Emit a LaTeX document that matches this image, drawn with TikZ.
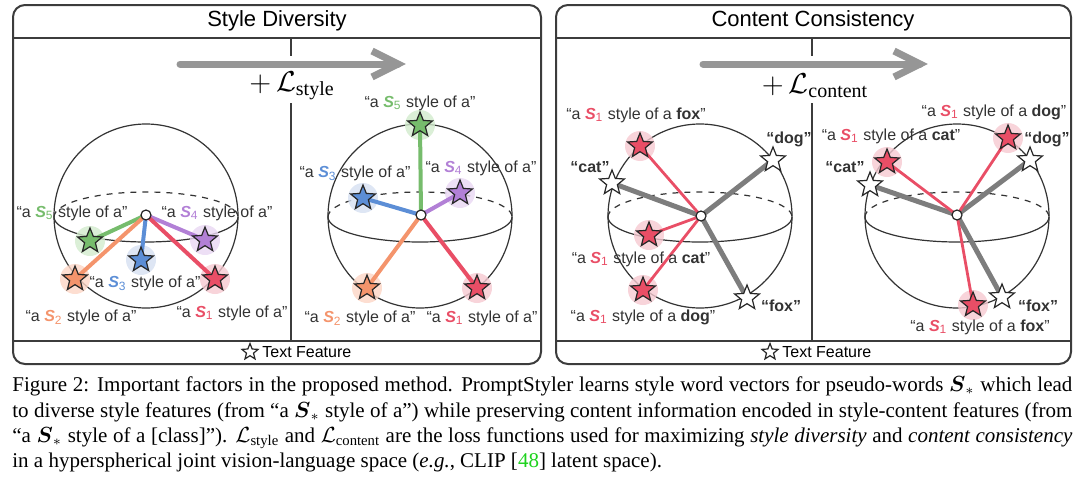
\documentclass[tikz,border=0pt]{standalone}
\usepackage{amsmath}
\usepackage{fontspec}
\setmainfont{Liberation Serif}
\setsansfont{Liberation Sans}
\usetikzlibrary{shapes.geometric}
\definecolor{framegray}{RGB}{60,60,60}
\definecolor{arrowgray}{RGB}{150,150,150}
\definecolor{featgray}{RGB}{125,125,125}
\definecolor{s1}{RGB}{233,78,102}
\definecolor{s2}{RGB}{244,148,108}
\definecolor{s3}{RGB}{92,142,214}
\definecolor{s4}{RGB}{178,128,214}
\definecolor{s5}{RGB}{118,188,108}
\definecolor{g1}{RGB}{246,201,209}
\definecolor{g2}{RGB}{252,214,198}
\definecolor{g3}{RGB}{214,224,241}
\definecolor{g4}{RGB}{233,215,243}
\definecolor{g5}{RGB}{210,235,205}
\definecolor{citegreen}{RGB}{30,210,30}
\pgfdeclarelayer{back}
\pgfdeclarelayer{glow}
\pgfdeclarelayer{edges}
\pgfsetlayers{back,glow,edges,main}
\tikzset{panel/.style={draw=framegray, line width=1pt, rounded corners=6pt},
         bar/.style={draw=framegray, line width=0.8pt},
         ball/.style={draw=black!80, line width=0.6pt},
         fstar/.style={star, star points=5, star point ratio=2.3, draw=black!85, line width=0.6pt, fill=#1, minimum size=13pt, inner sep=0pt},
         fstar/.default=white,
         dot/.style={circle, draw=black!85, fill=white, line width=0.6pt, minimum size=5pt, inner sep=0pt},
         lab/.style={font=\sffamily\fontsize{8}{9}\selectfont, text=black!80, inner sep=0pt},
         title/.style={font=\sffamily\fontsize{11}{13}\selectfont, inner sep=0pt},
         loss/.style={font=\Large, inner sep=0pt},
         sline/.style={line width=2pt, draw=#1},
         tline/.style={line width=2.5pt, draw=featgray},
         cline/.style={line width=1.4pt, draw=s1},
         bigarrow/.style={draw=arrowgray, line width=3.5pt, line cap=round},
         capline/.style={font=\fontsize{10.5}{12}\selectfont, inner sep=0pt, anchor=base west}}
\newcommand{\sword}[2]{{\color{#1}\textbf{\textit{S}}\textsubscript{#2}}}
\newcommand{\glowat}[2]{\fill[#1, opacity=.8] (#2) circle (15);}

\begin{document}
\begin{tikzpicture}[x=0.5pt, y=-0.5pt]
        \useasboundingbox (0,0) rectangle (1080,487);
        % frames
        \draw[panel](13,5) rectangle (541,364);
        \draw[panel](556,5) rectangle (1071,364);
        \draw[bar](13,38)--(541,38);
        \draw[bar](13,341)--(541,341);
        \draw[bar](556,38)--(1071,38);
        \draw[bar](556,341)--(1071,341);
        \node[title](t1) at (277,21) {Style Diversity};
        \node[title](t2) at (813,21) {Content Consistency};
        \draw[bar,line width=0.6pt](291,38)--(291,56);
        \draw[bar,line width=0.6pt](291,103)--(291,341);
        \draw[bar,line width=0.6pt](812,38)--(812,56);
        \draw[bar,line width=0.6pt](812,103)--(812,341);
        % loss arrows
        \coordinate (a1s) at (180,64);
        \coordinate (a1e) at (398,64);
        \draw[bigarrow](a1s)--(a1e);
        \draw[bigarrow,line cap=butt](a1e)++(-26,-13)--(a1e)--++(-26,13);
        \node[loss](l1) at (292,86) {$+\,\mathcal{L}_{\mathrm{style}}$};
        \coordinate (a2s) at (703,64);
        \coordinate (a2e) at (920,64);
        \draw[bigarrow](a2s)--(a2e);
        \draw[bigarrow,line cap=butt](a2e)++(-26,-13)--(a2e)--++(-26,13);
        \node[loss](l2) at (815,86) {$+\,\mathcal{L}_{\mathrm{content}}$};

        % style diversity, before
        \begin{pgfonlayer}{back}
        \draw[ball](146,216) circle (92);
        \draw[ball,dashed](146,217) ++(180:92 and 25) arc (180:360:92 and 25);
        \draw[ball](146,217) ++(0:92 and 25) arc (0:180:92 and 25);
        \end{pgfonlayer}
        \node[dot](lc) at (146,215) {};
        \node[fstar=s5](ls5) at (90,241) {};
        \node[fstar=s2](ls2) at (75,279) {};
        \node[fstar=s3](ls3) at (141,260) {};
        \node[fstar=s4](ls4) at (205,240) {};
        \node[fstar=s1](ls1) at (215,279) {};
        \begin{pgfonlayer}{glow}
        \glowat{g5}{ls5} \glowat{g2}{ls2} \glowat{g3}{ls3} \glowat{g4}{ls4} \glowat{g1}{ls1}
        \end{pgfonlayer}
        \begin{pgfonlayer}{edges}
        \draw[sline=s5](lc.center)--(ls5.center);
        \draw[sline=s2](lc.center)--(ls2.center);
        \draw[sline=s3](lc.center)--(ls3.center);
        \draw[sline=s4](lc.center)--(ls4.center);
        \draw[sline=s1](lc.center)--(ls1.center);
        \end{pgfonlayer}
        \node[lab](lt5) at (72,213) {“a \sword{s5}{5} style of a”};
        \node[lab](lt4) at (217,213) {“a \sword{s4}{4} style of a”};
        \node[lab](lt3) at (145,283) {“a \sword{s3}{3} style of a”};
        \node[lab](lt2) at (81,317) {“a \sword{s2}{2} style of a”};
        \node[lab](lt1) at (232,313) {“a \sword{s1}{1} style of a”};

        % style diversity, after
        \begin{pgfonlayer}{back}
        \draw[ball](420,216) circle (92);
        \draw[ball,dashed](420,217) ++(180:92 and 25) arc (180:360:92 and 25);
        \draw[ball](420,217) ++(0:92 and 25) arc (0:180:92 and 25);
        \end{pgfonlayer}
        \node[dot](rc) at (421,215) {};
        \node[fstar=s5](rs5) at (420,125) {};
        \node[fstar=s3](rs3) at (363,198) {};
        \node[fstar=s4](rs4) at (460,193) {};
        \node[fstar=s2](rs2) at (367,288) {};
        \node[fstar=s1](rs1) at (477,288) {};
        \begin{pgfonlayer}{glow}
        \glowat{g5}{rs5} \glowat{g2}{rs2} \glowat{g3}{rs3} \glowat{g4}{rs4} \glowat{g1}{rs1}
        \end{pgfonlayer}
        \begin{pgfonlayer}{edges}
        \draw[sline=s5](rc.center)--(rs5.center);
        \draw[sline=s2](rc.center)--(rs2.center);
        \draw[sline=s3](rc.center)--(rs3.center);
        \draw[sline=s4](rc.center)--(rs4.center);
        \draw[sline=s1](rc.center)--(rs1.center);
        \end{pgfonlayer}
        \node[lab](rt5) at (420,103) {“a \sword{s5}{5} style of a”};
        \node[lab](rt3) at (355,173) {“a \sword{s3}{3} style of a”};
        \node[lab](rt4) at (481,168) {“a \sword{s4}{4} style of a”};
        \node[lab](rt2) at (360,318) {“a \sword{s2}{2} style of a”};
        \node[lab](rt1) at (482,318) {“a \sword{s1}{1} style of a”};

        % content consistency, before
        \begin{pgfonlayer}{back}
        \draw[ball](700,216) circle (92);
        \draw[ball,dashed](700,217) ++(180:92 and 25) arc (180:360:92 and 25);
        \draw[ball](700,217) ++(0:92 and 25) arc (0:180:92 and 25);
        \end{pgfonlayer}
        \node[dot](cc) at (701,216) {};
        \node[fstar=s1](cfox) at (640,146) {};
        \node[fstar](tcat) at (612,183) {};
        \node[fstar](tdog) at (773,160) {};
        \node[fstar=s1](ccat) at (649,235) {};
        \node[fstar=s1](cdog) at (643,290) {};
        \node[fstar](tfox) at (747,298) {};
        \begin{pgfonlayer}{glow}
        \glowat{g1}{cfox} \glowat{g1}{ccat} \glowat{g1}{cdog}
        \end{pgfonlayer}
        \begin{pgfonlayer}{edges}
        \draw[tline](cc.center)--(tcat.center);
        \draw[tline](cc.center)--(tdog.center);
        \draw[tline](cc.center)--(tfox.center);
        \draw[cline](cc.center)--(cfox.center);
        \draw[cline](cc.center)--(ccat.center);
        \draw[cline](cc.center)--(cdog.center);
        \end{pgfonlayer}
        \node[lab](cfoxt) at (636,115) {“a \sword{s1}{1} style of a \textbf{fox}”};
        \node[lab](tdogt) at (789,139) {\textbf{“dog”}};
        \node[lab](tcatt) at (590,167) {\textbf{“cat”}};
        \node[lab](ccatt) at (641,259) {“a \sword{s1}{1} style of a \textbf{cat}”};
        \node[lab](cdogt) at (643,317) {“a \sword{s1}{1} style of a \textbf{dog}”};
        \node[lab](tfoxt) at (781,306) {\textbf{“fox”}};

        % content consistency, after
        \begin{pgfonlayer}{back}
        \draw[ball](957,216) circle (92);
        \draw[ball,dashed](957,217) ++(180:92 and 25) arc (180:360:92 and 25);
        \draw[ball](957,217) ++(0:92 and 25) arc (0:180:92 and 25);
        \end{pgfonlayer}
        \node[dot](dc) at (957,215) {};
        \node[fstar=s1](dcat) at (887,162) {};
        \node[fstar](ucat) at (870,185) {};
        \node[fstar=s1](ddog) at (1008,138) {};
        \node[fstar](udog) at (1030,160) {};
        \node[fstar=s1](dfox) at (973,305) {};
        \node[fstar](ufox) at (1002,297) {};
        \begin{pgfonlayer}{glow}
        \glowat{g1}{dcat} \glowat{g1}{ddog} \glowat{g1}{dfox}
        \end{pgfonlayer}
        \begin{pgfonlayer}{edges}
        \draw[tline](dc.center)--(ucat.center);
        \draw[tline](dc.center)--(udog.center);
        \draw[tline](dc.center)--(ufox.center);
        \draw[cline](dc.center)--(dcat.center);
        \draw[cline](dc.center)--(ddog.center);
        \draw[cline](dc.center)--(dfox.center);
        \end{pgfonlayer}
        \node[lab](ddogt) at (994,112) {“a \sword{s1}{1} style of a \textbf{dog}”};
        \node[lab](dcatt) at (891,136) {“a \sword{s1}{1} style of a \textbf{cat}”};
        \node[lab](udogt) at (1047,139) {\textbf{“dog”}};
        \node[lab](ucatt) at (845,167) {\textbf{“cat”}};
        \node[lab](ufoxt) at (1038,306) {\textbf{“fox”}};
        \node[lab](dfoxt) at (980,327) {“a \sword{s1}{1} style of a \textbf{fox}”};

        % legend bars
        \node[fstar,minimum size=8.5pt](k1) at (250,352) {};
        \node[lab,text=black,anchor=west](k1t) at (262,352) {Text Feature};
        \node[fstar,minimum size=8.5pt](k2) at (770,352) {};
        \node[lab,text=black,anchor=west](k2t) at (782,352) {Text Feature};

        % caption
        \node[capline](cap1) at (12,391) {\makebox[530pt][s]{Figure 2: Important factors in the proposed method. PromptStyler learns style word vectors for pseudo-words $\boldsymbol{S}_*$ which lead}};
        \node[capline](cap2) at (12,417) {\makebox[530pt][s]{to diverse style features (from “a $\boldsymbol{S}_*$ style of a”) while preserving content information encoded in style-content features (from}};
        \node[capline](cap3) at (12,442) {\makebox[530pt][s]{“a $\boldsymbol{S}_*$ style of a [class]”). $\mathcal{L}_{\text{style}}$ and $\mathcal{L}_{\text{content}}$ are the loss functions used for maximizing \textit{style diversity} and \textit{content consistency}}};
        \node[capline](cap4) at (12,467) {in a hyperspherical joint vision-language space (\textit{e.g.}, CLIP [\textcolor{citegreen}{48}] latent space).};
    \end{tikzpicture}
\end{document}
